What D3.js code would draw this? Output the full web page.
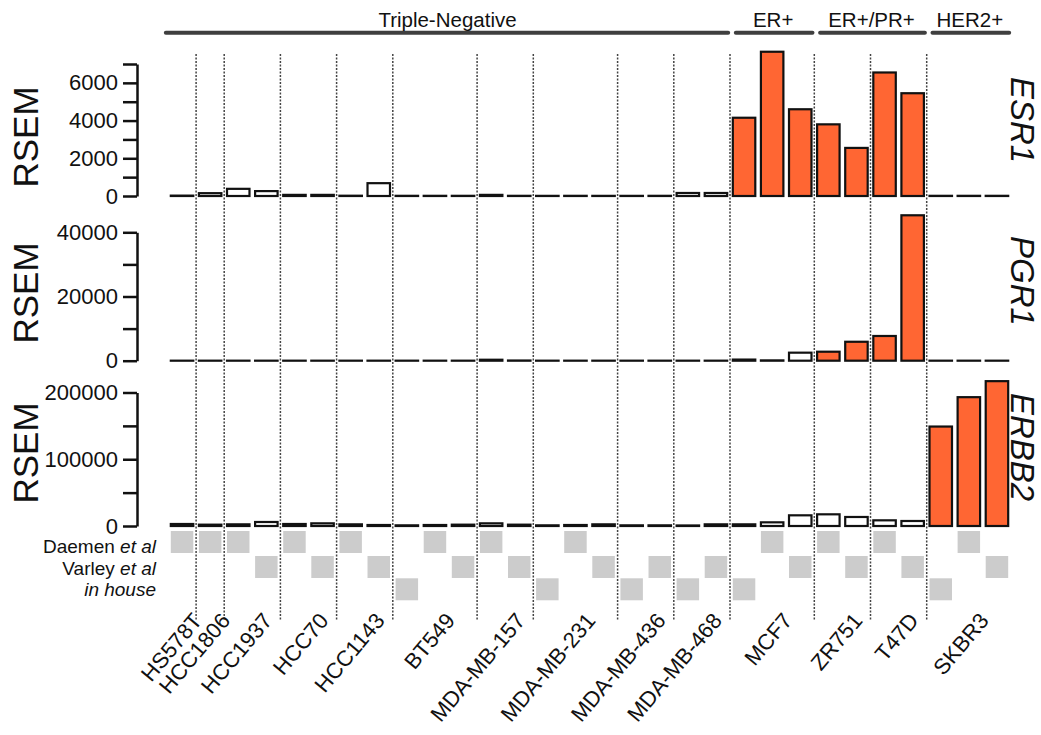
<!DOCTYPE html>
<html>
<head>
<meta charset="utf-8">
<script src="https://cdn.jsdelivr.net/npm/d3@7"></script>
<style>
  html, body { margin: 0; padding: 0; background: #fff; }
  svg { display: block; font-family: "Liberation Sans", Arial, Helvetica, sans-serif; }
</style>
</head>
<body>
<svg id="chart" width="1041" height="735"></svg>
<script>
// Cell lines in display order, with their receptor subtype
const cellLines = ["HS578T", "HCC1806", "HCC1937", "HCC70", "HCC1143", "BT549", "MDA-MB-157",
  "MDA-MB-231", "MDA-MB-436", "MDA-MB-468", "MCF7", "ZR751", "T47D", "SKBR3"];
const cellSubtype = ["Triple-Negative", "Triple-Negative", "Triple-Negative", "Triple-Negative",
  "Triple-Negative", "Triple-Negative", "Triple-Negative", "Triple-Negative", "Triple-Negative",
  "Triple-Negative", "ER+", "ER+/PR+", "ER+/PR+", "HER2+"];
const subtypes = ["Triple-Negative", "ER+", "ER+/PR+", "HER2+"];

// One entry per sequenced sample (bar)
const sampleLine = ["HS578T", "HCC1806", "HCC1937", "HCC1937", "HCC70", "HCC70", "HCC1143", "HCC1143",
  "BT549", "BT549", "BT549", "MDA-MB-157", "MDA-MB-157", "MDA-MB-231", "MDA-MB-231", "MDA-MB-231",
  "MDA-MB-436", "MDA-MB-436", "MDA-MB-468", "MDA-MB-468", "MCF7", "MCF7", "MCF7",
  "ZR751", "ZR751", "T47D", "T47D", "SKBR3", "SKBR3", "SKBR3"];
const sampleSource = ["Daemen", "Daemen", "Daemen", "Varley", "Daemen", "Varley", "Daemen", "Varley",
  "in house", "Daemen", "Varley", "Daemen", "Varley", "in house", "Daemen", "Varley",
  "in house", "Varley", "in house", "Varley", "in house", "Daemen", "Varley",
  "Daemen", "Varley", "Daemen", "Varley", "in house", "Daemen", "Varley"];
const sources = ["Daemen", "Varley", "in house"];

// RSEM expression per sample
const esr1Values = [20, 150, 380, 260, 60, 60, 15, 680, 10, 10, 10, 60, 10, 8, 10, 8, 8, 10, 160, 160,
  4150, 7650, 4600, 3800, 2550, 6550, 5450, 10, 10, 10];
const pgr1Values = [10, 10, 10, 10, 10, 10, 10, 10, 10, 10, 10, 300, 60, 10, 10, 10, 10, 10, 10, 10,
  350, 100, 2500, 2800, 5900, 7700, 45300, 10, 10, 10];
const erbb2Values = [3000, 2000, 2500, 6000, 3000, 4000, 2500, 1500, 1000, 1500, 2000, 4000, 2000, 1000,
  1500, 2500, 1000, 1000, 800, 2500, 2500, 5500, 16000, 17500, 13500, 8500, 7500, 149000, 193000, 217000];

// Subtypes in which each gene is expected to be high
const esr1Positive = ["ER+", "ER+/PR+"];
const pgr1Positive = ["ER+/PR+"];
const erbb2Positive = ["HER2+"];

// Axis ticks
const esr1Ticks = [0, 1000, 2000, 3000, 4000, 5000, 6000, 7000];
const esr1TickLabels = [0, 2000, 4000, 6000];
const pgr1Ticks = [0, 10000, 20000, 30000, 40000];
const pgr1TickLabels = [0, 20000, 40000];
const erbb2Ticks = [0, 50000, 100000, 150000, 200000];
const erbb2TickLabels = [0, 100000, 200000];

const ORANGE = "#ff6633";
const svg = d3.select("#chart");

const samples = d3.range(sampleLine.length);
const x = d3.scaleBand().domain(samples).range([168, 1011]).paddingInner(0.2).paddingOuter(0.1);
const subtypeOf = line => cellSubtype[cellLines.indexOf(line)];

const panels = [
  { gene: "ESR1", values: esr1Values, positive: esr1Positive, ticks: esr1Ticks, labels: esr1TickLabels,
    y: d3.scaleLinear().domain([0, 7000]).range([196, 64]), rsemY: 137, geneY: 120 },
  { gene: "PGR1", values: pgr1Values, positive: pgr1Positive, ticks: pgr1Ticks, labels: pgr1TickLabels,
    y: d3.scaleLinear().domain([0, 40000]).range([360.7, 232.3]), rsemY: 293, geneY: 281 },
  { gene: "ERBB2", values: erbb2Values, positive: erbb2Positive, ticks: erbb2Ticks, labels: erbb2TickLabels,
    y: d3.scaleLinear().domain([0, 200000]).range([526, 392.5]), rsemY: 453, geneY: 447 }
];

// Sample extent of every cell line
const lineExtent = cellLines.map(line => {
  const idx = samples.filter(i => sampleLine[i] === line);
  const first = d3.min(idx), last = d3.max(idx);
  return { line, first, last,
    start: x(first) - x.step() * x.paddingInner() / 2,
    end: x(last) + x.bandwidth() + x.step() * x.paddingInner() / 2,
    center: (x(first) + x(last) + x.bandwidth()) / 2 };
});

// Dotted separators between cell lines
svg.append("g").selectAll("line")
  .data(lineExtent.slice(1))
  .join("line")
  .attr("x1", d => d.start).attr("x2", d => d.start)
  .attr("y1", 54).attr("y2", 621)
  .attr("stroke", "#444").attr("stroke-width", 1.5)
  .attr("stroke-dasharray", "2,1.5");

// Subtype brackets
const subtypeExtent = subtypes.map(s => {
  const idx = samples.filter(i => subtypeOf(sampleLine[i]) === s);
  return { s, x1: x(d3.min(idx)), x2: x(d3.max(idx)) + x.bandwidth() };
});
const head = svg.append("g");
head.selectAll("line").data(subtypeExtent).join("line")
  .attr("x1", (d, i) => i === 0 ? d.x1 - 5 : d.x1 + 3).attr("x2", d => d.x2 + 1)
  .attr("y1", 32.7).attr("y2", 32.7)
  .attr("stroke", "#3f3f3f").attr("stroke-width", 4).attr("stroke-linecap", "round");
head.selectAll("text").data(subtypeExtent).join("text")
  .attr("x", (d, i) => (i === 0 ? d.x1 - 5 + d.x2 : d.x1 + d.x2) / 2 + 1).attr("y", 26.5)
  .attr("text-anchor", "middle").attr("font-size", 20.5).attr("fill", "#111")
  .text(d => d.s);

// Expression panels
panels.forEach(p => {
  const g = svg.append("g");
  g.selectAll("rect").data(samples).join("rect")
    .attr("x", i => x(i))
    .attr("width", x.bandwidth())
    .attr("y", i => p.y(p.values[i]))
    .attr("height", i => p.y(0) - p.y(p.values[i]))
    .attr("fill", i => p.positive.includes(subtypeOf(sampleLine[i])) ? ORANGE : "#fff")
    .attr("stroke", "#111").attr("stroke-width", 2.2);

  const axis = d3.axisLeft(p.y).tickValues(p.ticks).tickSize(14).tickSizeOuter(0).tickPadding(5)
    .tickFormat(v => p.labels.includes(v) ? String(v) : "");
  const ax = svg.append("g").attr("transform", "translate(137,0)").call(axis);
  ax.select(".domain").attr("stroke", "#111").attr("stroke-width", 2.5);
  ax.selectAll(".tick line").attr("stroke", "#111").attr("stroke-width", 2.5);
  ax.selectAll(".tick text").attr("font-size", 22).attr("fill", "#111")
    .attr("font-family", "'Liberation Sans', Arial, sans-serif");

  svg.append("text")
    .attr("transform", `translate(37.5,${p.rsemY}) rotate(-90)`)
    .attr("text-anchor", "middle").attr("font-size", 35).attr("fill", "#111")
    .text("RSEM");

  svg.append("text")
    .attr("transform", `translate(1011,${p.geneY}) rotate(90)`)
    .attr("text-anchor", "middle").attr("font-size", 33).attr("font-style", "italic").attr("fill", "#111")
    .text(p.gene);
});

// Data source tiles
const rowTop = [531, 556, 578.3];
svg.append("g").selectAll("rect").data(samples).join("rect")
  .attr("x", i => x(i)).attr("width", x.bandwidth())
  .attr("y", i => rowTop[sources.indexOf(sampleSource[i])]).attr("height", 22)
  .attr("fill", "#cccccc");

const rowBase = [553, 574.5, 596];
const srcLabels = [["Daemen ", "et al"], ["Varley ", "et al"], ["", "in house"]];
srcLabels.forEach((parts, k) => {
  const t = svg.append("text").attr("x", 156).attr("y", rowBase[k])
    .attr("text-anchor", "end").attr("font-size", 19).attr("fill", "#111");
  if (parts[0]) t.append("tspan").text(parts[0]);
  t.append("tspan").attr("font-style", "italic").text(parts[1]);
});

// Cell line names, hung from their top-right corner
svg.append("g").selectAll("text").data(lineExtent).join("text")
  .attr("transform", d => `translate(${d.center + 9},611) rotate(-50)`)
  .attr("text-anchor", "end").attr("dy", "0.72em").attr("font-size", 22).attr("fill", "#111")
  .text(d => d.line);
</script>
</body>
</html>
